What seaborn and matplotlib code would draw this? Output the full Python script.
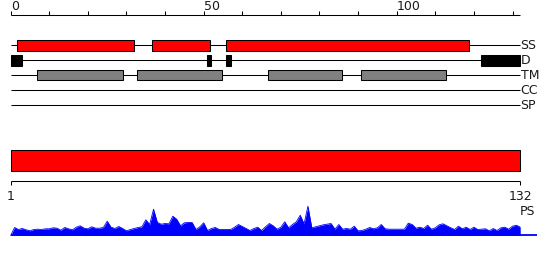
import matplotlib
matplotlib.use("Agg")
import matplotlib.pyplot as plt
import seaborn as sns
import numpy as np
import pandas as pd

sns.set_style("white")
plt.rcParams['font.family'] = ['DejaVu Sans']

# ---------------- data ----------------
seq_len = 132
ruler_ticks = list(range(0, 131, 10))
ruler_labels = {0: "0", 50: "50", 100: "100"}

track_names = ["SS", "D", "TM", "CC", "SP"]
ss_segments = [(1.7, 31.9), (36.7, 51.7), (55.8, 118.8)]
d_segments = [(0.0, 2.85), (50.8, 51.8), (55.8, 57.0), (121.8, 132.0)]
tm_segments = [(6.9, 29.0), (32.8, 54.8), (66.7, 85.9), (90.7, 112.9)]
cc_segments = []
sp_segments = []

domain_segments = [(0.0, 132.0)]
domain_labels = ["1", "132"]

ps_values = [8, 6, 7, 5.7, 4.7, 6, 6.3, 6, 6.7, 6.7,
             7.7, 7.3, 5.3, 8, 6.7, 5.7, 8.3, 9.7, 7.3, 6.7,
             8.7, 7.3, 7.3, 8, 14.3, 8.3, 7, 9, 7, 4.7,
             6, 7, 8, 8.7, 15.7, 11, 26.3, 13, 11.3, 12,
             11.7, 19.3, 16.3, 9.7, 12.7, 13, 13, 6, 8.7, 12.7,
             5, 7, 8, 6, 6, 6, 6, 8.3, 11, 9,
             7, 5, 7, 8.3, 5, 8.7, 12, 9.7, 6.3, 8.3,
             13.7, 7.7, 11, 13.7, 20.3, 11.7, 29.3, 7.7, 8.7, 9.7,
             10.7, 11.3, 12, 6.3, 11, 6.3, 7, 6.3, 9.3, 4.7,
             5, 6.3, 8, 6.7, 7.7, 11, 6.7, 6.3, 6.3, 6.3,
             6.3, 6.3, 12.3, 11, 7.3, 8.3, 7, 10.3, 6.3, 7.7,
             10.7, 11.7, 9.7, 7.7, 6, 9.3, 6.7, 8.3, 6, 8.3,
             6, 6.3, 6.7, 4.7, 7, 5, 7.7, 8.3, 6.3, 9.3,
             10.3, 8.3]
ps_positions = list(range(1, seq_len + 1))

# ---------------- layout ----------------
W, H = 550, 260
X0, SCALE = 10.7, 3.86           # pixel of residue 0, pixels per residue
xlim = (-X0 / SCALE, (W - X0) / SCALE)
LW = 0.75
TXT = "#1a1a1a"
FS = 9

fig = plt.figure(figsize=(W / 100, H / 100), dpi=100)
ax = fig.add_axes([0, 0, 1, 1])
ax.set_xlim(*xlim)
ax.set_ylim(H, 0)
ax.axis("off")

# ruler
ruler_y = 15
ax.hlines(ruler_y, 0, seq_len, color="black", lw=LW)
ax.vlines(ruler_ticks, ruler_y - 4, ruler_y, color="black", lw=LW)
for t, lab in ruler_labels.items():
    ax.text(t + 0.1, 9.5, lab, ha="left", va="baseline", fontsize=FS, color=TXT)

# tracks
track_y = [45.3, 60.3, 75.3, 90.3, 105.3]
track_h = [10.5, 10.7, 10.0, 10, 10]
track_segs = [ss_segments, d_segments, tm_segments, cc_segments, sp_segments]
track_fc = ["#ff0000", "#000000", "#808080", "#808080", "#808080"]
for name, y, h, segs, fc in zip(track_names, track_y, track_h, track_segs, track_fc):
    ax.hlines(y, 0, seq_len, color="black", lw=LW, zorder=1)
    if segs:
        starts = [s for s, e in segs]
        widths = [e - s for s, e in segs]
        ax.barh([y] * len(segs), widths, left=starts, height=h,
                color=fc, edgecolor="black", linewidth=LW, zorder=2)
    ax.text(seq_len + 0.1, y + 0.3, name, ha="left", va="center",
            fontsize=FS, color=TXT)

# domain bar
dom_y, dom_h = 160.4, 20.5
ax.barh([dom_y] * len(domain_segments),
        [e - s for s, e in domain_segments],
        left=[s for s, e in domain_segments], height=dom_h,
        color="#ff0000", edgecolor="black", linewidth=LW)
axis2_y = 180.7
ax.hlines(axis2_y, 0, seq_len, color="black", lw=LW)
ax.vlines([0, seq_len], axis2_y, axis2_y + 4, color="black", lw=LW)
ax.text(0, 200, domain_labels[0], ha="center", va="baseline", fontsize=FS, color=TXT)
ax.text(seq_len, 200, domain_labels[1], ha="center", va="baseline", fontsize=FS, color=TXT)

# PS profile
base_px, top_px = 235.5, 200.0
axp = fig.add_axes([0, (H - base_px) / H, 1, (base_px - top_px) / H])
axp.set_xlim(*xlim)
axp.set_ylim(0, base_px - top_px)
axp.axis("off")
df = pd.DataFrame({"pos": [0] + ps_positions, "ps": [0] + ps_values})
axp.fill_between(df["pos"], 0, df["ps"], color="#0000ff", lw=0)
sns.lineplot(data=df, x="pos", y="ps", ax=axp, color="#0000ff", lw=0.6)
axp.hlines(0.5, 0, 136.4, color="#0000ff", lw=1.3)
ax.text(seq_len + 0.0, 215, "PS", ha="left", va="baseline", fontsize=FS, color=TXT)

fig.savefig("out.png", dpi=100)
